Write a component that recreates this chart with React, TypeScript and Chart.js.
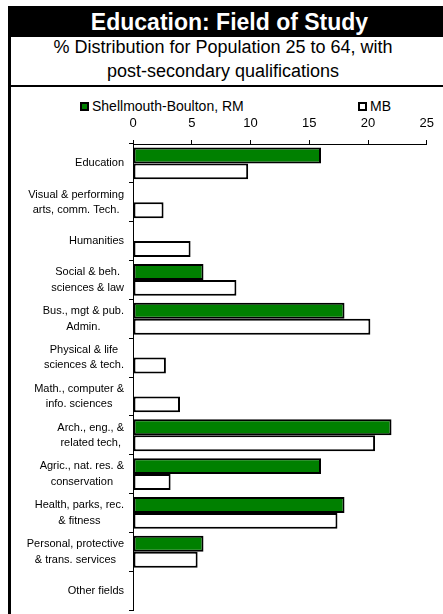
import React, { useEffect, useRef } from "react";
import { Chart, registerables } from "chart.js";

Chart.register(...registerables);

const FONT = '"Liberation Sans", Arial, Helvetica, sans-serif';

const titleText = "Education: Field of Study";
const subtitleLines = [
  "% Distribution for Population 25 to 64, with",
  "post-secondary qualifications",
];

const categories: string[][] = [
  ["Education"],
  ["Visual & performing", "arts, comm. Tech."],
  ["Humanities"],
  ["Social & beh.", "sciences & law"],
  ["Bus., mgt & pub.", "Admin."],
  ["Physical & life", "sciences & tech."],
  ["Math., computer &", "info. sciences"],
  ["Arch., eng., &", "related tech,"],
  ["Agric., nat. res. &", "conservation"],
  ["Health, parks, rec.", "& fitness"],
  ["Personal, protective", "& trans. services"],
  ["Other fields"],
];

const seriesNames = ["Shellmouth-Boulton, RM", "MB"];
const seriesColors = ["#008000", "#ffffff"];
const shellmouthValues = [16.0, 0, 0, 6.0, 18.0, 0, 0, 22.0, 16.0, 18.0, 6.0, 0];
const mbValues = [9.8, 2.6, 4.9, 8.8, 20.2, 2.8, 4.0, 20.6, 3.2, 17.4, 5.5, 0];
const xTickValues = [0, 5, 10, 15, 20, 25];

const yLabelPlugin = {
  id: "yLabelBlocks",
  afterDraw(chart: any) {
    const ctx = chart.ctx;
    const y = chart.scales.y;
    ctx.save();
    ctx.font = `11px ${FONT}`;
    ctx.fillStyle = "#000";
    ctx.textAlign = "center";
    ctx.textBaseline = "middle";
    categories.forEach((lines, i) => {
      const py = y.getPixelForValue(i);
      const w = Math.max(...lines.map((l) => ctx.measureText(l).width));
      const cx = y.right - 9 - w / 2;
      lines.forEach((l, j) => {
        ctx.fillText(l, cx, py + (j - (lines.length - 1) / 2) * 15.5);
      });
    });
    ctx.restore();
  },
};

function BarChart() {
  const ref = useRef<HTMLCanvasElement>(null);
  useEffect(() => {
    if (!ref.current) return;
    const chart = new Chart(ref.current, {
      type: "bar",
      data: {
        labels: categories.map((c) => c.join(" ")),
        datasets: [
          {
            label: seriesNames[0],
            data: shellmouthValues,
            backgroundColor: seriesColors[0],
            borderColor: "#000",
            borderWidth: 2,
            borderSkipped: false,
            categoryPercentage: 0.82,
            barPercentage: 1,
          },
          {
            label: seriesNames[1],
            data: mbValues,
            backgroundColor: seriesColors[1],
            borderColor: "#000",
            borderWidth: 2,
            borderSkipped: false,
            categoryPercentage: 0.82,
            barPercentage: 1,
          },
        ],
      },
      options: {
        indexAxis: "y",
        animation: false,
        responsive: false,
        maintainAspectRatio: false,
        layout: { padding: { left: 0, right: 15, top: 0, bottom: 4 } },
        plugins: {
          legend: { display: false },
          tooltip: { enabled: false },
          title: { display: false },
        },
        scales: {
          x: {
            type: "linear",
            position: "top",
            min: 0,
            max: 25,
            afterBuildTicks: (s: any) => {
              s.ticks = xTickValues.map((v) => ({ value: v }));
            },
            ticks: {
              color: "#000",
              font: { size: 13, family: FONT },
              padding: 9,
              maxRotation: 0,
            },
            grid: {
              drawOnChartArea: false,
              drawTicks: true,
              tickLength: 4,
              color: "#000",
            },
            border: { display: true, color: "#000", width: 1 },
            afterFit: (s: any) => {
              s.height = 32;
            },
          },
          y: {
            type: "category",
            offset: true,
            ticks: { display: false },
            grid: {
              offset: true,
              drawOnChartArea: false,
              drawTicks: true,
              tickLength: 4,
              color: "#000",
            },
            border: { display: true, color: "#000", width: 1 },
            afterFit: (s: any) => {
              s.width = 122;
            },
          },
        },
      },
      plugins: [yLabelPlugin],
    } as any);
    return () => chart.destroy();
  }, []);
  return (
    <canvas
      ref={ref}
      width={432}
      height={502}
      style={{ position: "absolute", left: 11, top: 112, width: 432, height: 502, display: "block" }}
    />
  );
}

export default function App() {
  return (
    <div
      style={{
        position: "absolute",
        left: 0,
        top: 0,
        width: 443,
        height: 614,
        overflow: "hidden",
        background: "#fff",
        fontFamily: FONT,
      }}
    >
      {/* header bar */}
      <div style={{ position: "absolute", left: 8, top: 6, width: 440, height: 31, background: "#000" }} />
      <div
        style={{
          position: "absolute",
          left: 8,
          top: 7,
          width: 443,
          height: 31,
          lineHeight: "31px",
          textAlign: "center",
          color: "#fff",
          fontWeight: "bold",
          fontSize: 23,
          whiteSpace: "nowrap",
        }}
      >
        {titleText}
      </div>
      {/* left border */}
      <div style={{ position: "absolute", left: 8, top: 6, width: 3, height: 608, background: "#000" }} />
      {/* separator line */}
      <div style={{ position: "absolute", left: 8, top: 85, width: 440, height: 2, background: "#000" }} />
      {/* subtitle */}
      <div
        style={{
          position: "absolute",
          left: 8,
          top: 35,
          width: 430,
          textAlign: "center",
          fontSize: 18,
          lineHeight: "24px",
          color: "#000",
          whiteSpace: "nowrap",
        }}
      >
        {subtitleLines.map((l, i) => (
          <div key={i}>{l}</div>
        ))}
      </div>
      {/* legend */}
      {seriesNames.map((name, i) => {
        const x = i === 0 ? 80 : 358;
        return (
          <React.Fragment key={name}>
            <div
              style={{
                position: "absolute",
                left: x,
                top: 102,
                width: 9,
                height: 9,
                boxSizing: "border-box",
                border: "2px solid #000",
                background: seriesColors[i],
              }}
            />
            <div
              style={{
                position: "absolute",
                left: x + 12,
                top: 98,
                height: 16,
                lineHeight: "16px",
                fontSize: 14,
                color: "#000",
                whiteSpace: "nowrap",
              }}
            >
              {name}
            </div>
          </React.Fragment>
        );
      })}
      <BarChart />
    </div>
  );
}
